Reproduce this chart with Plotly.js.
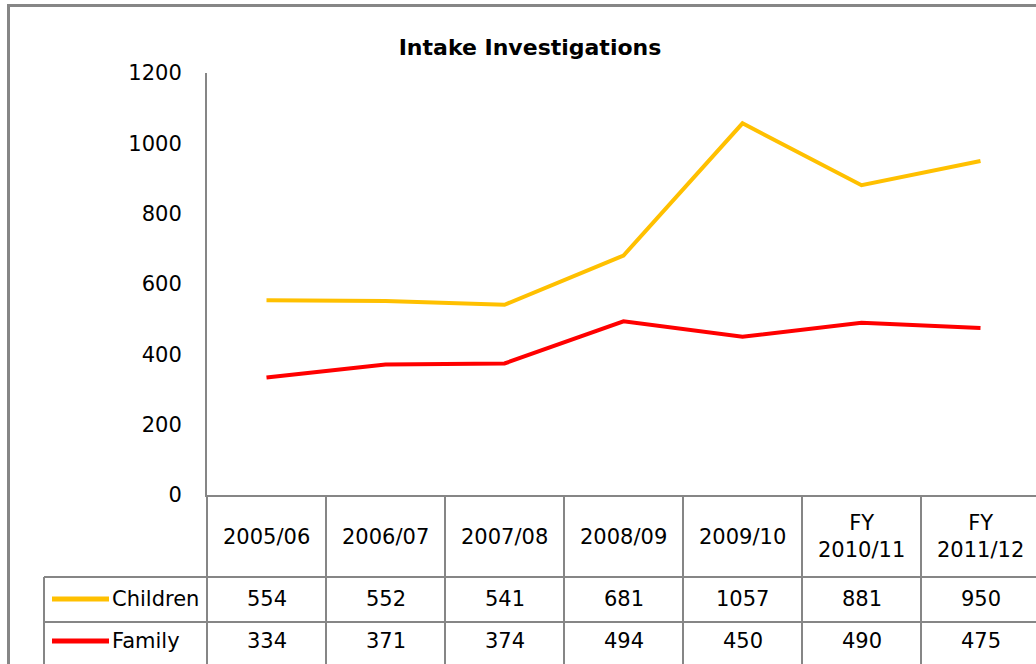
<!DOCTYPE html>
<html>
<head>
<meta charset="utf-8">
<script src="https://cdn.plot.ly/plotly-3.0.1.min.js"></script>
<style>html,body{margin:0;padding:0;background:#fff;}#chart{width:1036px;height:664px;}</style>
</head>
<body>
<div id="chart"></div>
<script>
// ---- data ----
const categories = ['2005/06', '2006/07', '2007/08', '2008/09', '2009/10', 'FY 2010/11', 'FY 2011/12'];
const seriesNames = ['Children', 'Family'];
const children = [554, 552, 541, 681, 1057, 881, 950];
const family = [334, 371, 374, 494, 450, 490, 475];
const seriesColors = ['#FFC000', '#FF0000'];
const yTicks = [0, 200, 400, 600, 800, 1000, 1200];

// ---- layout geometry (pixels) ----
const W = 1036, H = 664;
const L = 207, T = 73, B = 169, R = 0;
const PW = W - L - R, PH = H - T - B;
const xp = px => (px - L) / PW;
const yp = py => 1 - (py - T) / PH;

const FONT = 'DejaVu Sans, sans-serif';
const GRID = '#868686';

const seriesValues = [children, family];
const traces = seriesValues.map((vals, i) => ({
  type: 'scatter', mode: 'lines', name: seriesNames[i],
  x: categories, y: vals,
  line: {color: seriesColors[i], width: 4},
  hoverinfo: 'skip', showlegend: false
}));

const rowY = [599, 641];
const annotations = [];
// header cells
categories.forEach(c => {
  annotations.push({xref: 'x', yref: 'paper', x: c, y: yp(536.5), xanchor: 'center', yanchor: 'middle',
    text: c.replace(' ', '<br>'), showarrow: false, font: {family: FONT, size: 21, color: '#000'}});
});
// value cells and row labels
seriesValues.forEach((vals, i) => {
  annotations.push({xref: 'paper', yref: 'paper', x: xp(110), y: yp(rowY[i]), xanchor: 'left', yanchor: 'middle',
    text: seriesNames[i], showarrow: false, font: {family: FONT, size: 21, color: '#000'}});
  vals.forEach((v, j) => {
    annotations.push({xref: 'x', yref: 'paper', x: categories[j], y: yp(rowY[i]), xanchor: 'center', yanchor: 'middle',
      text: String(v), showarrow: false, font: {family: FONT, size: 21, color: '#000'}});
  });
});

const shapes = [
  // table horizontal lines
  {type: 'line', xref: 'paper', yref: 'paper', x0: xp(44), x1: 1.01, y0: yp(577), y1: yp(577), line: {color: GRID, width: 2}},
  {type: 'line', xref: 'paper', yref: 'paper', x0: xp(44), x1: 1.01, y0: yp(622), y1: yp(622), line: {color: GRID, width: 2}},
  // table left line
  {type: 'line', xref: 'paper', yref: 'paper', x0: xp(44), x1: xp(44), y0: yp(577), y1: yp(670), line: {color: GRID, width: 2}},
  // outer border
  {type: 'line', xref: 'paper', yref: 'paper', x0: xp(8.5), x1: xp(8.5), y0: yp(4), y1: yp(670), line: {color: GRID, width: 3}},
  {type: 'line', xref: 'paper', yref: 'paper', x0: xp(7), x1: 1.01, y0: yp(5.5), y1: yp(5.5), line: {color: GRID, width: 3}},
];
// legend keys in table
seriesColors.forEach((col, i) => {
  shapes.push({type: 'line', xref: 'paper', yref: 'paper', x0: xp(52), x1: xp(109), y0: yp(rowY[i]), y1: yp(rowY[i]),
    line: {color: col, width: 5}});
});

const layout = {
  width: W, height: H,
  margin: {l: L, r: R, t: T, b: B, pad: 0},
  paper_bgcolor: '#fff', plot_bgcolor: '#fff',
  title: {text: '<b>Intake Investigations</b>', font: {family: FONT, size: 22, color: '#000'},
    xref: 'container', x: 530 / W, xanchor: 'center', yref: 'container', y: 1 - 47 / H, yanchor: 'middle'},
  xaxis: {type: 'category', range: [-0.5, -0.5 + PW / 119], fixedrange: true,
    showgrid: false, zeroline: false, showline: true, linecolor: GRID, linewidth: 2,
    tickson: 'boundaries', ticks: 'outside', ticklen: B + 4, tickcolor: GRID, tickwidth: 2,
    showticklabels: false},
  yaxis: {range: [0, 1200], tickvals: yTicks, ticktext: yTicks.map(String), fixedrange: true,
    showgrid: false, zeroline: false, showline: true, linecolor: GRID, linewidth: 2,
    ticks: '', ticklabelstandoff: 19,
    tickfont: {family: FONT, size: 21, color: '#000'}},
  showlegend: false,
  annotations: annotations,
  shapes: shapes
};

Plotly.newPlot('chart', traces, layout, {staticPlot: true, displayModeBar: false});
</script>
</body>
</html>
